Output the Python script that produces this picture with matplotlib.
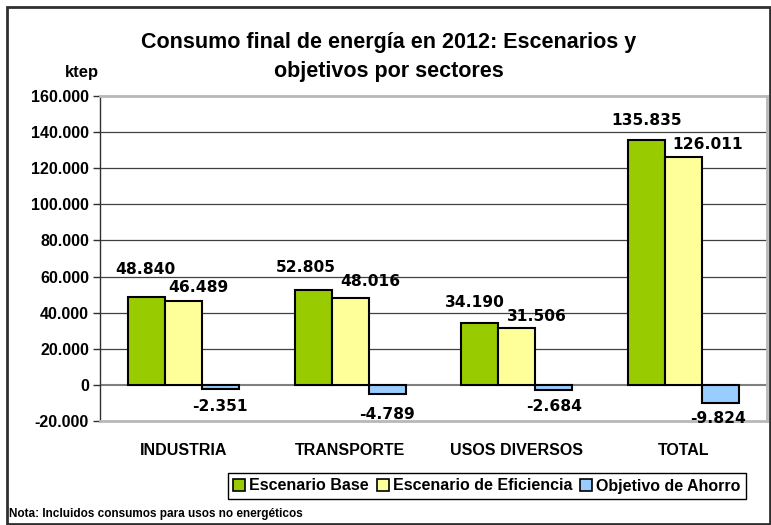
import matplotlib.pyplot as plt
import matplotlib.patches as mpatches
import numpy as np

sectores = ["INDUSTRIA", "TRANSPORTE", "USOS DIVERSOS", "TOTAL"]
escenario_base = [48840, 52805, 34190, 135835]
escenario_eficiencia = [46489, 48016, 31506, 126011]
objetivo_ahorro = [-2351, -4789, -2684, -9824]

series = ["Escenario Base", "Escenario de Eficiencia", "Objetivo de Ahorro"]
colores = ["#99cc00", "#ffff99", "#99ccff"]

# desplazamiento de las etiquetas (pixeles) respecto al extremo de la barra
dx_etq = [[-1, -7, -5, 0], [15, 20, 20, 24], [0, 0, 0, -3]]
dy_etq = [[27, 22, 21, 19], [13, 17, 12, 13], [-17, -21, -17, -16]]


def fmt(v):
    return f"{v:,.0f}".replace(",", ".")


W, H = 771, 525
fig = plt.figure(figsize=(W / 100, H / 100), dpi=100)
plt.rcParams["font.family"] = "Liberation Sans"

# marco exterior
fig.patches.append(mpatches.Rectangle((7 / W, 1 / H), 763 / W, 517 / H, transform=fig.transFigure,
                                      fill=False, edgecolor="#303030", linewidth=2))

ax = fig.add_axes([100 / W, 1 - 421 / H, 667 / W, 325 / H])

x = np.arange(len(sectores))
ancho = 0.222
datos = [escenario_base, escenario_eficiencia, objetivo_ahorro]
for k, vals in enumerate(datos):
    pos = x + (k - 1) * ancho
    ax.bar(pos, vals, ancho, color=colores[k], edgecolor="black", linewidth=1.5, zorder=3)
    for i, v in enumerate(vals):
        ax.annotate(fmt(v), (pos[i], v), xytext=(dx_etq[k][i], dy_etq[k][i]), textcoords="offset pixels",
                    ha="center", va="center", fontsize=11.2, fontweight="bold", family="DejaVu Sans",
                    zorder=4)

ax.set_xlim(-0.5, 3.5)
ax.set_ylim(-20000, 160000)
ticks = np.arange(-20000, 160001, 20000)
ax.set_yticks(ticks)
ax.set_yticklabels([fmt(t) for t in ticks], fontsize=11.5, fontweight="bold")
ax.set_xticks(x)
ax.set_xticklabels(sectores, fontsize=11.5, fontweight="bold")
ax.tick_params(axis="x", length=0, pad=16)
ax.tick_params(axis="y", length=5, width=1, color="#303030", pad=3)

for t in ticks[1:-1]:
    if t == 0:
        ax.axhline(0, color="#808080", linewidth=1.5, zorder=2)
    else:
        ax.axhline(t, color="#404040", linewidth=0.9, zorder=1)

for lado in ["top", "right", "bottom"]:
    ax.spines[lado].set_color("#b8b8b8")
    ax.spines[lado].set_linewidth(2)
ax.spines["left"].set_color("#303030")
ax.spines["left"].set_linewidth(1)

fig.text(389 / W, 1 - 57 / H, "Consumo final de energía en 2012: Escenarios y\nobjetivos por sectores",
         ha="center", va="center", fontsize=15.5, fontweight="bold", linespacing=1.5)
fig.text(82 / W, 1 - 73 / H, "ktep", ha="center", va="center", fontsize=12, fontweight="bold")

handles = [mpatches.Patch(facecolor=c, edgecolor="black", linewidth=1.2) for c in colores]
leg = fig.legend(handles, series, loc="center", bbox_to_anchor=(487 / W, 1 - 486 / H), ncol=3,
                 prop={"size": 11.5, "weight": "bold"}, handlelength=0.75, handleheight=0.75,
                 handletextpad=0.25, columnspacing=0.5, borderpad=0.35, fancybox=False,
                 edgecolor="black", framealpha=1)
leg.get_frame().set_linewidth(1)

fig.text(9 / W, 1 - 514 / H, "Nota: Incluidos consumos para usos no energéticos", ha="left", va="center",
         fontsize=8.5, fontweight="bold")

fig.savefig("out.png", dpi=100)
